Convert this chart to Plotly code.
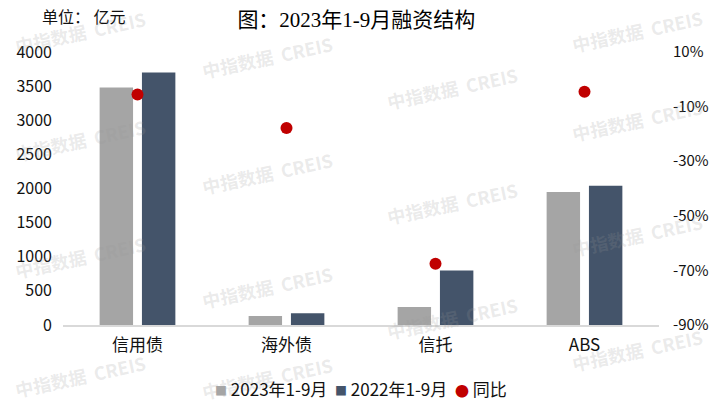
import plotly.graph_objects as go

# data
categories = ["信用债", "海外债", "信托", "ABS"]
amount_2023 = [3480, 132, 262, 1950]      # 亿元, 2023年1-9月
amount_2022 = [3700, 172, 800, 2040]      # 亿元, 2022年1-9月
yoy_pct = [-5.6, -17.8, -67.6, -4.6]      # 同比, %

left_ticks = [0, 500, 1000, 1500, 2000, 2500, 3000, 3500, 4000]
right_ticks = [-90, -70, -50, -30, -10, 10]
right_labels = [f"{v}%" for v in right_ticks]

series_names = ["2023年1-9月", "2022年1-9月", "同比"]

GRAY = "#A5A5A5"
NAVY = "#44546A"
RED = "#C00000"
CJK = "Noto Sans CJK SC"

# plot area in pixels (used to place the decorations)
PX_L, PX_R, PX_T, PX_B = 63, 659, 52, 325


def to_paper(px, py):
    return (px - PX_L) / (PX_R - PX_L), (PX_B - py) / (PX_B - PX_T)


fig = go.Figure()

fig.add_trace(go.Bar(
    x=categories, y=amount_2023, name=series_names[0], showlegend=False,
    marker=dict(color=GRAY, line=dict(width=0)),
))
fig.add_trace(go.Bar(
    x=categories, y=amount_2022, name=series_names[1], showlegend=False,
    marker=dict(color=NAVY, line=dict(width=0)),
))
fig.add_trace(go.Scatter(
    x=categories, y=yoy_pct, name=series_names[2], yaxis="y2", showlegend=False,
    mode="markers", marker=dict(color=RED, size=12, symbol="circle"),
))

# watermark "中指数据 CREIS" laid out on a slanted grid
# (edge ones nudged inward so they stay whole)
watermark_spots = [
    (80, 32), (80, 140), (80, 257), (80, 376),
    (267, 57), (267, 173), (267, 287), (267, 378),
    (452, 88), (452, 203), (452, 318),
    (637, 31), (637, 120), (637, 235), (637, 350),
]
annotations = []
for px, py in watermark_spots:
    ax, ay = to_paper(px, py)
    annotations.append(dict(
        text="<b>中指数据  CREIS</b>", x=ax, y=ay, xref="paper", yref="paper",
        xanchor="center", yanchor="middle", showarrow=False, textangle=-12,
        font=dict(family=CJK, size=18, color="rgba(150,150,150,0.2)"),
    ))

ux, uy = to_paper(40, 16)
annotations.append(dict(
    text="单位： 亿元", x=ux, y=uy, xref="paper", yref="paper",
    xanchor="left", yanchor="middle", showarrow=False,
    font=dict(family=CJK, size=16, color="#111"),
))

# compact legend row, drawn as one line of text with coloured glyphs
def swatch(glyph, color, size):
    return f'<span style="font-size:{size}px;color:{color}">{glyph}</span>'


legend_text = "  ".join([
    swatch("■", GRAY, 12) + " " + series_names[0],
    swatch("■", NAVY, 12) + " " + series_names[1],
    swatch("●", RED, 14) + " " + series_names[2],
])
lx, ly = to_paper(361, 388)
annotations.append(dict(
    text=legend_text, x=lx, y=ly, xref="paper", yref="paper",
    xanchor="center", yanchor="middle", showarrow=False,
    font=dict(family=CJK, size=17, color="#111"),
))

fig.update_layout(
    width=720,
    height=407,
    margin=dict(l=PX_L, r=720 - PX_R, t=PX_T, b=407 - PX_B),
    paper_bgcolor="#fff",
    plot_bgcolor="#fff",
    font=dict(family=CJK, size=14, color="#111"),
    title=dict(
        text="图：2023年1-9月融资结构",
        x=to_paper(358, 0)[0], xanchor="center", y=1 - 20 / 407, yanchor="middle",
        font=dict(family="Liberation Serif, " + CJK, size=21, color="#000"),
    ),
    barmode="group",
    bargap=0.432,
    bargroupgap=0.21,
    showlegend=False,
    xaxis=dict(
        showgrid=False, zeroline=False, showline=True,
        linecolor="#D9D9D9", linewidth=2, ticks="", ticklabelstandoff=4,
        tickfont=dict(family=CJK, size=17, color="#111"),
    ),
    yaxis=dict(
        range=[0, 4000], tickvals=left_ticks, showgrid=False, zeroline=False,
        showline=False, ticks="", ticklabelstandoff=10,
        tickfont=dict(family=CJK, size=16, color="#111"),
    ),
    yaxis2=dict(
        overlaying="y", side="right", range=[-90, 10],
        tickvals=right_ticks, ticktext=right_labels, showgrid=False,
        zeroline=False, showline=False, ticks="", ticklabelstandoff=13,
        tickfont=dict(family=CJK, size=15, color="#111"),
    ),
    annotations=annotations,
)

# the page's default body margin would push the chart 8px off the window
fig.write_html(
    "out.html",
    config={"displayModeBar": False},
    post_script="document.body.style.margin = '0';",
)
